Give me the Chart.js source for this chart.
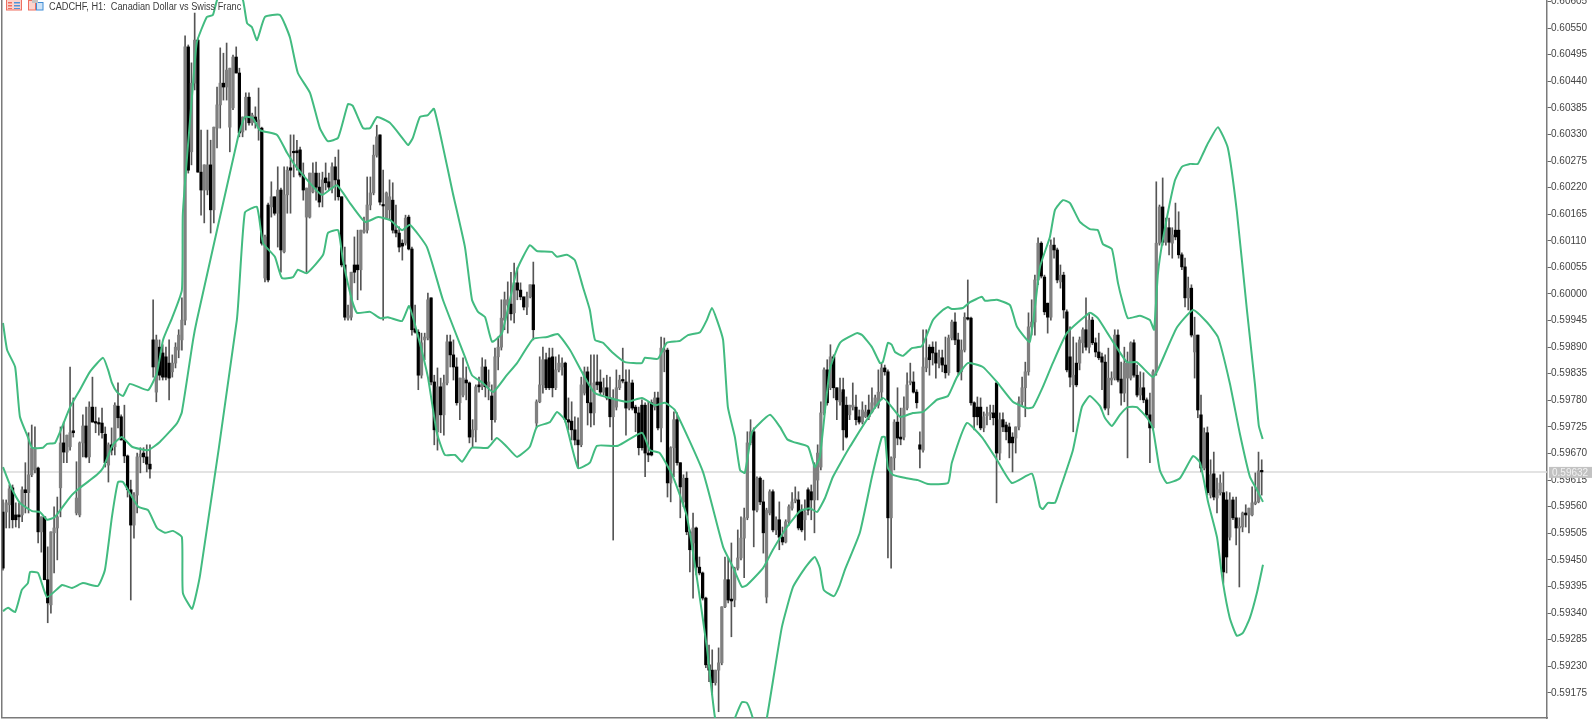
<!DOCTYPE html>
<html>
<head>
<meta charset="utf-8">
<title>CADCHF, H1</title>
<script src="https://cdn.jsdelivr.net/npm/chart.js@4"></script>
<style>
html, body { margin: 0; padding: 0; background: #fff; overflow: hidden; }
canvas { display: block; }
</style>
</head>
<body>
<canvas id="chart" width="1595" height="720"></canvas>
<script>
// all prices are in points (1 point = 0.00001)
const chartTitle = "CADCHF, H1:  Canadian Dollar vs Swiss Franc";
const lastPrice = 59632;
const tickValues = [60605,60550,60495,60440,60385,60330,60275,60220,60165,60110,60055,60000,59945,59890,59835,59780,59725,59670,59615,59560,59505,59450,59395,59340,59285,59230,59175];

const opens = [
59549,59549,59564,59599,59543,59543,59543,59595,59589,59626,
59636,59640,59508,59539,59409,59357,59506,59516,59599,59692,
59673,59684,59717,59547,59543,59692,59727,59663,59766,59735,
59733,59733,59710,59646,59688,59684,59768,59746,59698,59665,
59595,59522,59584,59663,59671,59663,59648,59905,59797,59890,
59878,59870,59857,59839,59857,59884,59905,59946,60511,60294,
60436,60525,60252,60215,60215,60267,60174,60343,60391,60436,
60428,60345,60385,60490,60457,60335,60366,60407,60354,60366,
60343,60343,60033,60184,60180,60201,60167,60215,60087,60205,
60261,60294,60296,60298,60246,60159,60159,60211,60250,60221,
60205,60240,60232,60219,60263,60236,60201,60060,59950,59952,
60060,60060,60050,60128,60132,60184,60209,60287,60329,60184,
60157,60174,60194,60132,60126,60105,60105,60159,60093,59928,
59921,59832,59905,59909,59992,59818,59715,59808,59750,59816,
59901,59874,59849,59775,59791,59822,59816,59704,59719,59812,
59808,59849,59808,59789,59740,59870,59890,59946,59977,59979,
59961,60023,60008,59994,59973,59994,60019,59733,59777,59812,
59864,59868,59870,59806,59843,59849,59857,59740,59737,59719,
59698,59688,59795,59839,59775,59754,59818,59818,59797,59806,
59785,59746,59766,59806,59822,59818,59764,59816,59766,59754,
59770,59770,59671,59775,59766,59785,59723,59880,59884,59609,
59682,59740,59651,59570,59619,59508,59485,59516,59435,59423,
59371,59233,59222,59196,59222,59237,59353,59409,59369,59367,
59433,59454,59495,59537,59692,59715,59553,59619,59570,59373,
59547,59591,59512,59533,59497,59487,59529,59557,59572,59574,
59553,59533,59595,59591,59574,59615,59642,59754,59843,59806,
59870,59806,59777,59802,59770,59750,59766,59766,59746,59735,
59746,59760,59756,59770,59770,59797,59847,59839,59537,59661,
59735,59704,59704,59764,59816,59818,59797,59688,59677,59847,
59890,59890,59878,59857,59868,59853,59837,59909,59942,59905,
59839,59884,59950,59950,59775,59766,59766,59723,59748,59752,
59754,59816,59671,59740,59729,59725,59704,59702,59725,59777,
59806,59839,59932,59942,60029,60105,60035,59981,59952,60101,
60091,60025,60039,59963,59870,59812,59857,59857,59899,59926,
59890,59946,59899,59880,59870,59859,59764,59822,59826,59915,
59824,59795,59826,59826,59899,59832,59791,59806,59781,59750,
59723,59839,60105,60180,60107,60137,60105,60132,60132,60081,
60056,59992,60012,59880,59915,59750,59640,59713,59584,59628,
59578,59589,59589,59574,59497,59574,59537,59516,59518,59547,
59543,59543,59566,59570,59634];

const highs = [
59574,59574,59605,59605,59568,59568,59601,59651,59713,59729,
59725,59642,59539,59539,59477,59508,59560,59580,59725,59735,
59708,59849,59785,59653,59694,59750,59766,59777,59828,59766,
59744,59764,59725,59692,59723,59775,59816,59750,59770,59667,
59615,59589,59671,59682,59682,59688,59688,59988,59915,59905,
59895,59890,59905,59874,59899,59926,59992,60534,60515,60478,
60581,60529,60339,60267,60339,60318,60345,60428,60509,60498,
60519,60467,60494,60511,60467,60366,60416,60416,60374,60387,
60426,60345,60122,60188,60232,60201,60263,60219,60263,60263,
60329,60329,60318,60304,60271,60219,60250,60271,60273,60250,
60252,60271,60250,60271,60283,60298,60201,60097,59977,60045,
60118,60132,60132,60159,60242,60242,60308,60349,60329,60256,
60211,60236,60230,60184,60139,60112,60163,60163,60097,59977,
59926,59919,59919,60002,59992,59832,59847,59826,59832,59915,
59915,59905,59868,59826,59868,59849,59818,59740,59812,59828,
59868,59864,59843,59812,59888,59911,59988,60004,60025,60045,
60064,60054,60023,59994,60004,60019,60066,59781,59870,59890,
59878,59888,59888,59870,59874,59868,59859,59785,59777,59746,
59744,59828,59849,59849,59874,59874,59874,59843,59826,59832,
59828,59802,59843,59832,59888,59843,59843,59822,59770,59766,
59781,59775,59777,59781,59797,59797,59911,59909,59888,59684,
59756,59754,59651,59626,59632,59512,59547,59518,59456,59425,
59373,59274,59264,59222,59268,59353,59456,59454,59485,59435,
59512,59539,59557,59715,59740,59723,59622,59622,59615,59557,
59595,59595,59539,59570,59518,59533,59564,59589,59601,59591,
59564,59574,59599,59605,59651,59688,59777,59847,59864,59895,
59874,59806,59826,59826,59787,59770,59816,59791,59760,59777,
59770,59791,59806,59791,59843,59857,59853,59843,59663,59740,
59806,59764,59787,59837,59857,59839,59802,59715,59926,59926,
59895,59901,59901,59884,59884,59911,59915,59946,59961,59919,
59905,59961,60029,59952,59777,59787,59785,59756,59766,59770,
59770,59816,59754,59754,59735,59733,59713,59725,59787,59828,
59859,59961,59988,60039,60116,60108,60039,59981,60112,60116,
60095,60060,60045,59967,59932,59911,59899,59911,59930,59992,
59961,59952,59909,59919,59878,59874,59888,59839,59926,59926,
59859,59890,59880,59901,59905,59853,59839,59837,59785,59795,
59843,60232,60184,60240,60157,60157,60137,60188,60170,60085,
60074,60035,60019,59952,59915,59791,59723,59725,59657,59673,
59619,59626,59632,59591,59589,59580,59580,59537,59549,59564,
59557,59601,59630,59673,59657];

const lows = [
59429,59516,59516,59516,59518,59516,59529,59547,59547,59622,
59630,59485,59466,59409,59320,59340,59423,59450,59539,59651,
59651,59677,59704,59543,59539,59663,59661,59651,59735,59713,
59708,59702,59642,59611,59667,59667,59723,59698,59651,59580,
59367,59495,59547,59630,59651,59632,59619,59828,59777,59822,
59822,59822,59781,59828,59847,59868,59884,59936,60250,60267,
60422,60252,60163,60147,60205,60126,60147,60302,60343,60401,
60401,60294,60381,60457,60325,60325,60339,60349,60349,60343,
60318,60101,60025,60025,60159,60163,60097,60045,60085,60167,
60167,60242,60256,60242,60194,60045,60157,60209,60194,60180,
60180,60215,60215,60209,60194,60194,60056,59946,59946,59946,
60023,59988,60008,60126,60126,60174,60205,60283,60184,59946,
60159,60153,60126,60118,60087,60070,60101,60091,59915,59919,
59802,59826,59864,59905,59812,59688,59677,59713,59708,59812,
59849,59822,59770,59740,59787,59781,59692,59682,59694,59797,
59802,59787,59781,59698,59735,59843,59884,59926,59919,59946,
59940,59988,59988,59967,59957,59992,59905,59723,59775,59795,
59802,59802,59787,59802,59839,59832,59735,59719,59698,59688,
59640,59684,59791,59729,59725,59729,59802,59791,59791,59781,
59725,59491,59760,59802,59816,59708,59760,59760,59715,59667,
59677,59622,59653,59665,59760,59719,59694,59839,59580,59570,
59622,59646,59537,59560,59502,59425,59371,59419,59419,59367,
59227,59198,59171,59191,59136,59233,59351,59361,59291,59353,
59429,59450,59413,59533,59688,59477,59549,59564,59464,59361,
59543,59508,59502,59471,59481,59485,59522,59553,59568,59512,
59508,59491,59543,59533,59506,59574,59636,59750,59770,59802,
59785,59740,59770,59677,59702,59740,59760,59729,59731,59731,
59744,59740,59754,59764,59764,59781,59832,59454,59433,59636,
59688,59688,59698,59760,59812,59795,59764,59640,59673,59839,
59832,59853,59826,59847,59839,59826,59832,59905,59895,59832,
59822,59880,59946,59770,59719,59729,59719,59715,59729,59740,
59729,59568,59657,59715,59698,59661,59632,59671,59719,59770,
59746,59832,59915,59915,60019,60033,59957,59919,59946,60074,
60023,60012,59950,59839,59808,59715,59808,59843,59878,59884,
59878,59895,59870,59864,59802,59760,59750,59812,59822,59818,
59770,59777,59661,59822,59828,59787,59781,59775,59744,59651,
59719,59832,60101,60101,60101,60081,60074,60112,60074,60050,
59973,59967,59911,59826,59744,59632,59636,59584,59578,59574,
59547,59584,59402,59423,59491,59533,59481,59394,59508,59518,
59506,59541,59564,59568,59584];

const closes = [
59433,59568,59597,59533,59533,59539,59595,59589,59626,59682,
59682,59508,59539,59409,59361,59508,59516,59539,59692,59673,
59708,59713,59713,59578,59692,59727,59663,59766,59735,59733,
59731,59713,59651,59688,59677,59770,59744,59698,59665,59595,
59522,59584,59663,59669,59663,59648,59638,59849,59905,59832,
59828,59828,59826,59857,59890,59915,59946,60511,60256,60436,
60525,60252,60215,60267,60267,60174,60345,60391,60436,60428,
60463,60467,60490,60457,60333,60366,60407,60354,60370,60356,
60360,60105,60118,60029,60201,60167,60215,60091,60205,60256,
60256,60292,60292,60246,60215,60219,60250,60250,60221,60190,
60236,60230,60221,60263,60236,60201,60060,59952,59955,60045,
60045,60050,60132,60132,60184,60209,60287,60325,60190,60182,
60209,60201,60132,60126,60097,60099,60157,60093,59926,59921,
59832,59899,59911,59988,59818,59719,59808,59750,59816,59901,
59874,59849,59775,59826,59826,59816,59704,59719,59808,59808,
59849,59808,59818,59740,59870,59890,59950,59988,59988,59959,
60023,60008,59994,59973,59994,60019,59926,59777,59812,59864,
59806,59806,59806,59843,59857,59857,59740,59735,59719,59698,
59688,59812,59839,59775,59754,59816,59812,59797,59806,59785,
59746,59781,59806,59822,59820,59764,59816,59764,59754,59682,
59682,59671,59667,59667,59785,59723,59888,59884,59609,59682,
59740,59651,59601,59619,59508,59471,59516,59435,59423,59371,
59233,59222,59196,59222,59237,59353,59409,59367,59365,59433,
59454,59495,59537,59692,59715,59553,59619,59570,59506,59553,
59591,59512,59533,59497,59487,59529,59560,59570,59576,59516,
59512,59549,59553,59574,59646,59671,59754,59843,59775,59870,
59806,59781,59797,59719,59704,59770,59770,59740,59735,59760,
59756,59746,59775,59785,59797,59847,59839,59537,59661,59735,
59702,59700,59764,59812,59820,59797,59775,59679,59849,59868,
59864,59878,59857,59868,59853,59837,59909,59942,59905,59839,
59884,59952,59948,59775,59746,59746,59723,59746,59752,59754,
59744,59671,59740,59725,59715,59692,59692,59725,59777,59806,
59839,59932,59942,60029,60105,60037,59963,59952,60101,60091,
60029,60039,59967,59843,59828,59832,59812,59905,59926,59890,
59946,59899,59880,59868,59859,59764,59826,59826,59915,59822,
59795,59857,59859,59899,59832,59791,59806,59781,59750,59723,
59839,60105,60180,60107,60137,60107,60122,60118,60081,60056,
59992,60012,59915,59915,59760,59640,59713,59589,59626,59580,
59595,59609,59425,59456,59574,59537,59516,59518,59547,59543,
59557,59568,59570,59634,59632];

const upperBars = [0,1.3,3.8,5.3,7.8,9.1,12.5,13.8,16.3,21,24.1,27.2,31.3,32.9,34.1,35.7,37.6,39.7,45.4,48.2,50.1,52.9,56,56.3,59.5,60.7,63.8,65.7,67,71,75.1,76.4,77.9,79.5,82,86.7,89.8,92.3,96.1,99.2,101.7,104.9,108,109.5,112.7,114.9,117.1,121.1,125.2,126.8,128.3,130.5,133,134.9,137.4,140.8,144.6,146.8,148.7,150.9,153.1,156.2,160.9,164.9,167.1,171.8,173.4,176.5,179,181.5,183.7,185.3,187.8,190.6,194.7,200,200.9,205,207.8,211.9,214.4,218.2,220.3,221.9,223.5,225.4,226.9,229.1,230.7,232.2,234.4,236.3,240.1,243.2,245.4,247.3,252,254.1,255.7,258.8,262,267.3,268.9,272,274.5,275.4,277,278.2,279.2,281.7,284.5,287.6,291.1,294.2,295.8,297,300.5,302.7,306.4,307.4,311.1,315.2,317.4,321.4,324.6,327.7,329.3,331.8,334,337.1,340.2,342.7,344.3,347.1,349,350.5,352.1,355.9,359,360.3,361.5,363.1,366.8,369,371.5,374,375.6,377.2,380.3,383.4,386.2,389.4,391.9,393.1,394.3];
const upperBand = [59940,59884,59849,59746,59704,59682,59682,59690,59692,59766,59802,59839,59868,59843,59816,59797,59789,59814,59801,59837,59905,59950,60008,60167,60436,60521,60573,60577,60608,60660,60608,60560,60552,60525,60573,60577,60531,60457,60416,60343,60316,60323,60393,60389,60343,60343,60366,60354,60321,60308,60323,60366,60370,60383,60314,60209,60097,59988,59963,59952,59901,59919,60050,60101,60089,60087,60077,60081,60070,60015,59967,59905,59899,59880,59859,59857,59868,59866,59899,59903,59915,59921,59946,59971,59946,59905,59766,59704,59636,59630,59713,59729,59750,59725,59700,59694,59684,59642,59663,59843,59899,59919,59915,59890,59857,59859,59899,59895,59880,59872,59888,59892,59946,59967,59973,59969,59971,59983,59994,59986,59988,59977,59932,59901,60056,60118,60174,60194,60188,60149,60134,60132,60103,60093,60023,59983,59950,59955,59946,59926,60041,60114,60234,60263,60269,60269,60290,60312,60345,60302,60172,59965,59812,59727,59700];

const middleBars = [0,2.2,5.3,9.1,11.6,13.8,16.3,21,24.1,29.4,31.3,34.4,37.2,40.4,45.4,49.1,54.5,56,59.5,60.7,73.6,75.7,78.2,80.4,85.8,88.9,92,99.8,104.5,108.6,113.3,117.4,121.1,124.9,127.4,132.7,137.7,144.6,146.8,150.2,153.4,157.7,160.9,165.9,170.3,173.7,177.5,181.5,185.3,195.3,200,204.1,207.2,210.3,219.1,225.4,228.5,231.3,232.9,237.9,241,245.4,249.5,252.6,254.8,257.3,259.8,265.1,275.4,280.8,284.8,288,292.3,295.8,298.6,302,306.7,311.1,316.1,320.5,322.4,325.5,328.6,333,340.2,342.7,346.5,351.8,354.9,359.9,361.5,367.4,372.5,376.8,380.3,384,387.1,390.3,392.5,394.4];
const middleBand = [59642,59605,59568,59551,59549,59533,59539,59580,59599,59626,59640,59688,59704,59684,59677,59694,59733,59756,59905,59946,60325,60366,60364,60339,60329,60292,60261,60205,60225,60188,60149,60159,60153,60132,60143,60097,59988,59870,59832,59816,59797,59832,59857,59907,59911,59917,59884,59835,59795,59777,59785,59770,59775,59760,59632,59477,59435,59394,59398,59433,59471,59518,59551,59557,59549,59578,59622,59684,59785,59746,59754,59756,59781,59789,59828,59857,59849,59818,59777,59764,59766,59808,59857,59919,59961,59950,59911,59859,59859,59828,59843,59930,59967,59942,59911,59816,59713,59622,59595,59570];

const lowerBars = [0,1.6,3.8,5.9,7.8,8.5,11,13.8,18.5,21.6,25,29.7,31.9,34.1,36,37.6,42.3,45.4,48.2,50.7,53.2,56,56.3,59.2,61.7,73.2,75.7,79.5,81.4,85.1,87.3,90.8,92.3,95.1,100.2,101.7,104.9,106.4,109.2,110.8,114.9,118,120.5,124.9,127.1,129.6,133,135.8,138.3,141.5,143.7,146.8,151.8,154.6,157.7,160.9,164.9,167.1,171.2,173.4,175.9,180,183.7,185.9,192.5,200,202.5,205.6,209.7,214.1,220.3,222.9,226,229.1,231.3,232.9,234.7,236.9,239.1,243.8,247.3,251,254.1,255.7,256.9,260.1,261.9,263.5,268.2,272,275.1,276.1,277,278.6,282.9,286.4,289.5,295.8,297,301.7,306.4,311.1,315.8,322.1,324.6,325.5,327.1,329.3,330.8,334.9,337.7,340.2,343.4,344.9,347.1,349.6,352.1,354.9,358.1,359.9,362.1,364.3,368.4,372.5,374.7,377.2,380,381.8,384,386.2,388.1,390.3,392.5,394.4];
const lowerBand = [59344,59351,59342,59388,59402,59425,59423,59373,59398,59392,59402,59396,59429,59539,59611,59611,59560,59553,59516,59506,59510,59497,59382,59349,59419,59946,60168,60180,60105,60077,60033,60035,60050,60043,60081,60126,60132,60070,59988,59961,59963,59950,59952,59944,59975,59921,59828,59713,59667,59667,59653,59682,59682,59702,59684,59663,59684,59725,59735,59756,59739,59640,59651,59686,59686,59713,59677,59671,59622,59539,59270,59123,59067,59123,59156,59154,59123,59067,59123,59311,59394,59433,59456,59433,59388,59375,59398,59429,59506,59622,59704,59704,59640,59626,59619,59615,59607,59609,59651,59733,59704,59657,59609,59628,59560,59555,59568,59568,59595,59677,59766,59789,59768,59744,59727,59750,59766,59766,59744,59723,59636,59609,59619,59665,59651,59570,59497,59406,59330,59293,59299,59330,59382,59440];

const toPrice = p => p / 100000;
const XMIN = -0.31, XMAX = 483.3;
const BAND_COLOR = "#42bb80";

function bandPoints(bars, values) {
    return bars.map((b, i) => ({ x: b, y: toPrice(values[i]) }));
}

// title, toolbar icons, left frame and the current price tag
const overlay = {
    id: "overlay",
    afterDraw(chart) {
        const ctx = chart.ctx;
        ctx.save();
        ctx.fillStyle = "#7a7a7a";
        ctx.fillRect(1, 0, 1.5, 718);

        // list icon
        ctx.fillStyle = "#fbd3cd";
        ctx.fillRect(7, 0, 14, 10);
        ctx.lineWidth = 1;
        ctx.strokeStyle = "#ee6f60";
        ctx.strokeRect(6.5, -1, 15, 11);
        ctx.fillStyle = "#ee6f60";
        ctx.fillRect(8, 2, 4, 1.5); ctx.fillRect(8, 5, 4, 1.5); ctx.fillRect(8, 8, 4, 1);
        ctx.fillStyle = "#4f94d8";
        ctx.fillRect(14, 2, 6, 1.5); ctx.fillRect(14, 5, 6, 1.5); ctx.fillRect(14, 8, 6, 1);
        // data window icon
        ctx.fillStyle = "#fbd3cd";
        ctx.fillRect(29, 1, 6, 9);
        ctx.strokeStyle = "#ee6f60";
        ctx.strokeRect(28.5, 0.5, 7, 9.5);
        ctx.fillStyle = "#cfe3f6";
        ctx.fillRect(37, 3, 6, 7);
        ctx.strokeStyle = "#3f8cd6";
        ctx.strokeRect(36.5, 2.5, 6.5, 7.5);
        ctx.fillStyle = "#c4c4c4";
        ctx.fillRect(32, 0, 6, 3);

        ctx.save();
        ctx.translate(49, 10);
        ctx.scale(0.92, 1);
        ctx.fillStyle = "#3c3c3c";
        ctx.font = "10px 'Liberation Sans'";
        ctx.textAlign = "left";
        ctx.textBaseline = "alphabetic";
        ctx.fillText(chartTitle, 0, 0);
        ctx.restore();

        const y = chart.scales.y.getPixelForValue(toPrice(lastPrice));
        ctx.fillStyle = "#c2c2c2";
        ctx.fillRect(1549, y - 5, 43, 11);
        ctx.fillStyle = "#f2f2f2";
        ctx.font = "10px 'Liberation Sans'";
        ctx.textBaseline = "middle";
        ctx.fillText(toPrice(lastPrice).toFixed(5), 1552, y + 1);
        ctx.restore();
    }
};

new Chart(document.getElementById("chart"), {
    type: "bar",
    plugins: [overlay],
    data: {
        datasets: [
            { type: "line", label: "Last price", order: 4, borderColor: "#dadada", borderWidth: 1.5, pointRadius: 0,
              data: [{ x: XMIN, y: toPrice(lastPrice) }, { x: XMAX, y: toPrice(lastPrice) }] },
            { label: "Wick", order: 3, grouped: false, barThickness: 1, backgroundColor: "#555555", borderWidth: 0,
              data: highs.map((h, i) => ({ x: i, y: [toPrice(lows[i]), toPrice(h)] })) },
            { label: "Body", order: 2, grouped: false, barThickness: 2.6, borderWidth: 0, minBarLength: 1.5,
              backgroundColor: closes.map((c, i) => c < opens[i] ? "#000000" : "#808080"),
              data: opens.map((o, i) => ({ x: i, y: [toPrice(o), toPrice(closes[i])] })) },
            { type: "line", label: "Upper", order: 1, borderColor: BAND_COLOR, borderWidth: 2, pointRadius: 0, tension: 0.15, data: bandPoints(upperBars, upperBand) },
            { type: "line", label: "Middle", order: 1, borderColor: BAND_COLOR, borderWidth: 2, pointRadius: 0, tension: 0.15, data: bandPoints(middleBars, middleBand) },
            { type: "line", label: "Lower", order: 1, borderColor: BAND_COLOR, borderWidth: 2, pointRadius: 0, tension: 0.15, data: bandPoints(lowerBars, lowerBand) }
        ]
    },
    options: {
        responsive: false,
        animation: false,
        layout: { padding: { left: 2, top: 0, right: 0, bottom: 1 } },
        plugins: { legend: { display: false }, tooltip: { enabled: false }, title: { display: false } },
        scales: {
            x: {
                type: "linear",
                offset: false,
                min: XMIN,
                max: XMAX,
                grid: { display: false },
                border: { display: true, color: "#7a7a7a", width: 1.5 },
                ticks: { display: false },
                afterFit: a => { a.height = 1; a.paddingLeft = 0; a.paddingRight = 0; }
            },
            y: {
                position: "right",
                min: 0.59123,
                max: 0.60608,
                grid: { drawOnChartArea: false, drawTicks: true, tickLength: 4, tickColor: "#666666" },
                border: { display: true, color: "#7a7a7a", width: 1.5 },
                ticks: {
                    autoSkip: false,
                    padding: 0,
                    color: "#444444",
                    font: { family: "'Liberation Sans'", size: 10 },
                    callback: v => v.toFixed(5)
                },
                afterBuildTicks: a => { a.ticks = tickValues.map(t => ({ value: toPrice(t) })); },
                afterFit: a => { a.width = 48; a.paddingTop = 0; a.paddingBottom = 0; }
            }
        }
    }
});
</script>
</body>
</html>
